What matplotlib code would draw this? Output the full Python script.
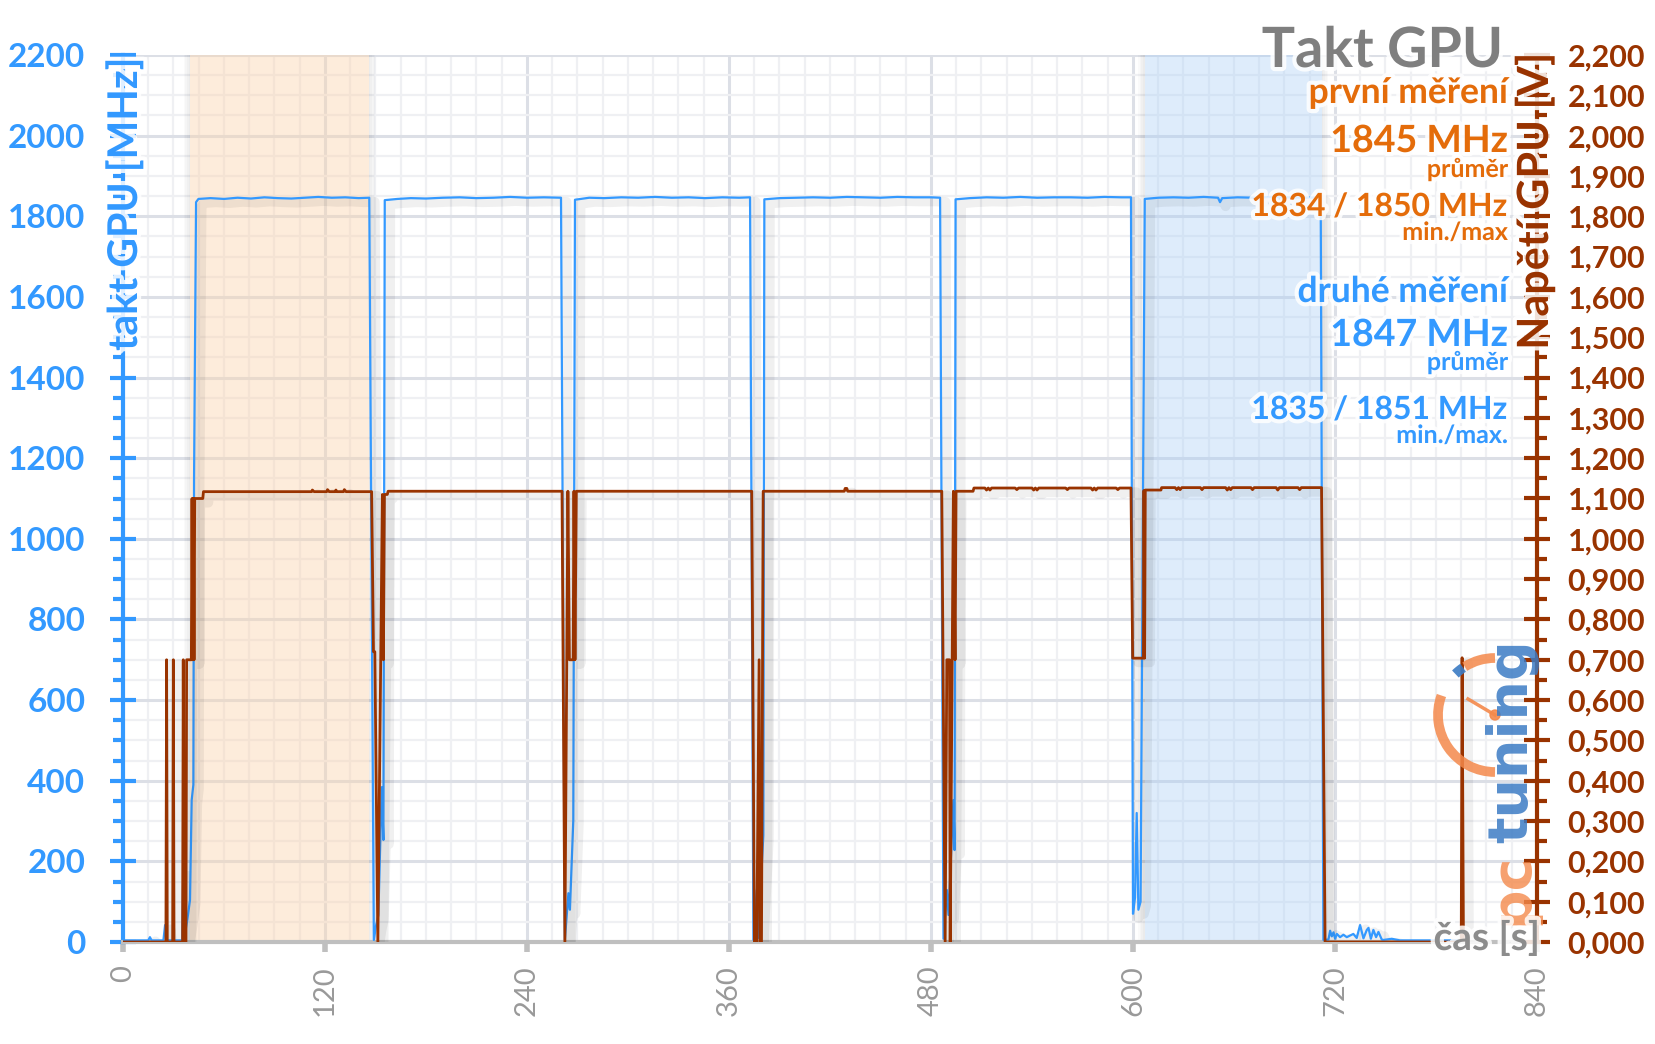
import numpy as np
import matplotlib
matplotlib.use('Agg')
import matplotlib.pyplot as plt
from matplotlib.ticker import MultipleLocator
import matplotlib.patheffects as pe
from matplotlib.patches import Arc, Circle

plt.rcParams['font.family'] = ['Lato', 'DejaVu Sans']

# --- data ------------------------------------------------------------------
# GPU clock (MHz), pairs of (time [s], value)
clock = [
    (0, 4), (15, 4), (16, 12), (17, 4), (24, 4), (25, 42), (26, 4), (35.2, 4),
    (35.8, 175), (36.4, 10), (38.2, 55), (39.8, 104), (40.8, 352), (41.8, 390),
    (42.2, 1146), (43.4, 1835), (44.8, 1843),
    (52, 1845), (60, 1843), (68, 1846), (76, 1844), (84, 1847), (92, 1845),
    (100, 1844), (108, 1846), (116, 1848), (124, 1846), (132, 1847), (140, 1845),
    (146.3, 1846),
    (149.0, 5), (150.3, 40), (151.7, 67), (153.7, 384), (154.7, 253), (155.5, 1840),
    (163, 1843), (171, 1845), (180, 1844), (190, 1846), (200, 1847), (210, 1845),
    (220, 1846), (230, 1848), (240, 1846), (250, 1847), (260.2, 1846),
    (262.5, 5), (264.6, 121), (265.5, 80), (267.5, 302), (268.5, 1841),
    (277, 1846), (286, 1845), (296, 1847), (306, 1846), (316, 1848), (326, 1846),
    (336, 1847), (346, 1845), (356, 1847), (366, 1846), (372.5, 1847),
    (374.5, 5), (376.5, 129), (377.3, 10), (380.4, 265), (381.0, 1842),
    (390, 1845), (400, 1846), (410, 1847), (420, 1846), (430, 1848), (440, 1847),
    (450, 1846), (460, 1848), (470, 1847), (480, 1847), (485.4, 1846),
    (487.4, 8), (489.4, 129), (490.4, 67), (493.3, 352), (494.0, 228), (494.6, 1842),
    (503, 1845), (513, 1847), (523, 1846), (533, 1848), (543, 1846), (553, 1847),
    (563, 1847), (573, 1846), (583, 1848), (593, 1847), (598.8, 1847),
    (600.0, 70), (601.2, 110), (602.2, 320), (603.2, 80), (604.5, 100), (607.0, 1843),
    (615, 1846), (624, 1847), (633, 1846), (642, 1848), (650.5, 1846), (651.7, 1835),
    (653, 1845), (662, 1847), (672, 1846), (682, 1848), (692, 1847), (702, 1846),
    (711.5, 1847),
    (713.1, 5), (716.1, 6), (717.1, 28), (718.1, 14), (719.1, 24), (720.1, 8),
    (721.1, 20), (723.0, 12), (725.0, 18), (727.0, 12), (729.0, 16), (730.9, 20),
    (732.9, 10), (734.9, 42), (736.9, 9), (738.9, 30), (739.9, 35), (741.3, 8),
    (742.8, 30), (744.4, 12), (745.8, 25), (747.8, 6), (748.7, 5), (753.7, 8),
    (758.6, 4), (776.5, 4), (797, 4),
]

# GPU voltage (V), pairs of (time [s], value)
voltage = [
    (0, 0), (25.5, 0), (25.9, 0.70), (26.3, 0), (29.5, 0), (29.9, 0.70), (30.3, 0),
    (35.4, 0), (35.8, 0.70), (36.2, 0), (37.4, 0), (37.8, 0.70), (40.6, 0.70),
    (41.0, 1.10), (41.4, 0.70), (41.8, 1.10), (42.2, 0.70), (42.6, 1.10),
    (47.4, 1.10), (47.8, 1.117),
    (112, 1.117), (112.5, 1.121), (113.5, 1.117), (121, 1.117), (121.5, 1.122),
    (122.5, 1.117), (126, 1.117), (126.5, 1.121), (127, 1.117), (131, 1.117),
    (131.5, 1.122), (132.5, 1.117), (147.7, 1.117),
    (148.8, 0.72), (149.6, 0.72), (151.4, 0), (154.1, 1.11), (154.7, 0.70),
    (155.3, 1.11), (157.0, 1.11), (157.5, 1.118),
    (260.8, 1.118),
    (262.5, 0), (264.3, 1.118), (265.2, 0.70), (267.4, 0.70), (267.9, 1.118),
    (268.5, 0.70), (269.3, 1.118),
    (373.5, 1.118),
    (375.1, 0), (376.5, 0), (377.9, 0.70), (378.4, 0), (379.3, 0), (380.3, 1.118),
    (428.5, 1.118), (429, 1.125), (430, 1.125), (430.5, 1.118), (486.4, 1.118),
    (488.4, 0), (489.4, 0.70), (491.0, 0.70), (491.4, 0), (493.3, 1.118),
    (494.3, 0.70), (494.9, 1.118), (505.0, 1.118), (505.5, 1.126),
    (512, 1.126), (513, 1.121), (514, 1.126), (515, 1.121), (516, 1.126),
    (530, 1.126), (531, 1.122), (532, 1.126), (540, 1.126), (541, 1.121),
    (542, 1.126), (543, 1.121), (544, 1.126), (560, 1.126), (561, 1.122),
    (562, 1.126), (575, 1.126), (576, 1.121), (577, 1.126), (578, 1.121),
    (579, 1.126), (590, 1.126), (591, 1.122), (592, 1.126), (598.8, 1.126),
    (599.8, 0.704), (606.2, 0.704), (606.5, 1.12), (606.9, 0.704), (607.3, 1.121),
    (616.6, 1.121), (617, 1.127),
    (625, 1.127), (626, 1.122), (627, 1.127), (628, 1.122), (629, 1.127),
    (640, 1.127), (641, 1.122), (642, 1.127), (655, 1.127), (656, 1.121),
    (657, 1.127), (658, 1.122), (659, 1.127), (670, 1.127), (671, 1.122),
    (672, 1.127), (685, 1.127), (686, 1.121), (687, 1.127), (698, 1.127),
    (699, 1.122), (700, 1.127), (712.0, 1.127),
    (714.1, 0), (795.0, 0), (795.5, 0.705), (796.3, 0), (797, 0),
]

first_span = (40, 146)     # first measurement window [s]
second_span = (607, 712)   # second measurement window [s]

time_ticks = [0, 120, 240, 360, 480, 600, 720, 840]
mhz_ticks = [0, 200, 400, 600, 800, 1000, 1200, 1400, 1600, 1800, 2000, 2200]
volt_ticks = [0.0, 0.1, 0.2, 0.3, 0.4, 0.5, 0.6, 0.7, 0.8, 0.9, 1.0, 1.1,
              1.2, 1.3, 1.4, 1.5, 1.6, 1.7, 1.8, 1.9, 2.0, 2.1, 2.2]
volt_labels = [('%.3f' % v).replace('.', ',') for v in volt_ticks]

title = 'Takt GPU'
first_lines = ['první měření', '1845 MHz', 'průměr', '1834 / 1850 MHz', 'min./max']
second_lines = ['druhé měření', '1847 MHz', 'průměr', '1835 / 1851 MHz', 'min./max.']

BLUE = '#3399ff'
BROWN = '#993300'
ORANGE = '#e46c0a'
GRAY = '#7f7f7f'

# --- figure ------------------------------------------------------------------
W, H = 1656, 1044
fig = plt.figure(figsize=(W / 100, H / 100), dpi=100)

def fx(px):
    return px / W

def fy(py):
    return 1 - py / H

ax = fig.add_axes([fx(123), fy(942), fx(1537) - fx(123), fy(55) - fy(942)])
ax2 = ax.twinx()

ax.set_xlim(0, 840)
ax.set_ylim(0, 2200)
ax2.set_ylim(0, 2.2)

# shaded windows with a soft shadow on the sides
for (a, b), col, al in [(first_span, '#fbd5b0', 0.45), (second_span, '#a9cff7', 0.38)]:
    for d in [1.0, 2.0, 3.0, 4.0]:
        ax.axvspan(a - d, a, color='k', alpha=0.018, lw=0, zorder=0.8)
        ax.axvspan(b, b + d, color='k', alpha=0.018, lw=0, zorder=0.8)
    ax.axvspan(a, b, color=col, alpha=al, lw=0, zorder=0.9)

ax.set_axisbelow(True)
ax.xaxis.set_minor_locator(MultipleLocator(15))
ax.yaxis.set_minor_locator(MultipleLocator(50))
ax.grid(which='major', color='#dcdfe6', lw=2.2)
ax.grid(which='minor', color='#eff0f3', lw=1.6)

shadow = [pe.SimpleLineShadow(offset=(4, -3), shadow_color='k', alpha=0.06, linewidth=7),
          pe.Normal()]
ct, cv = zip(*clock)
ax.plot(ct, cv, color=BLUE, lw=1.6, zorder=3, path_effects=shadow)
vt, vv = zip(*voltage)
ax2.plot(vt, vv, color=BROWN, lw=2.0, zorder=3, path_effects=shadow)

# spines
for s in ['top', 'right']:
    ax.spines[s].set_visible(False)
for s in ['top', 'left', 'bottom']:
    ax2.spines[s].set_visible(False)
ax.spines['left'].set_color(BLUE)
ax.spines['left'].set_linewidth(3)
ax.spines['bottom'].set_color('#bfbfbf')
ax.spines['bottom'].set_linewidth(3)
ax2.spines['right'].set_color(BROWN)
ax2.spines['right'].set_linewidth(3)

# ticks
ax.set_xticks(time_ticks)
ax.set_xticklabels([str(t) for t in time_ticks], rotation=90)
ax.tick_params(axis='x', which='major', direction='out', length=7, width=4,
               color='#bfbfbf', labelcolor='#999999', labelsize=21, pad=9.5)
ax.tick_params(axis='x', which='minor', length=0)

ax.set_yticks(mhz_ticks)
ax.set_yticklabels([str(m) for m in mhz_ticks], fontweight='bold')
ax.tick_params(axis='y', which='major', direction='inout', length=19, width=3,
               color=BLUE, labelcolor=BLUE, labelsize=24, pad=17.5)
ax.tick_params(axis='y', which='minor', direction='out', length=7, width=3, color=BLUE)

ax2.set_yticks(volt_ticks)
ax2.set_yticklabels(volt_labels, fontweight='bold')
ax2.yaxis.set_minor_locator(MultipleLocator(0.05))
ax2.tick_params(axis='y', which='major', direction='inout', length=19, width=3,
                color=BROWN, labelcolor=BROWN, labelsize=22, pad=12.5)
ax2.tick_params(axis='y', which='minor', direction='out', length=7, width=3, color=BROWN)

# overlay in pixel coordinates for texts and logo
ov = fig.add_axes([0, 0, 1, 1], zorder=5)
ov.set_xlim(0, W)
ov.set_ylim(H, 0)
ov.axis('off')
ov.patch.set_visible(False)

glow = [pe.withStroke(linewidth=6, foreground='white', alpha=0.85)]

# logo
LOGO_O = '#f4894b'
LOGO_B = '#3b7bc4'
ov.add_patch(Arc((1495, 715), 114, 114, theta1=90, theta2=200, color=LOGO_O, lw=7, alpha=0.85))
ov.add_patch(Arc((1495, 715), 114, 114, theta1=238, theta2=270, color=LOGO_O, lw=7, alpha=0.85))
ov.add_patch(Arc((1495, 715), 114, 114, theta1=226, theta2=236, color=LOGO_B, lw=7, alpha=0.9))
ov.plot([1495, 1468], [715, 699], color=LOGO_O, lw=2.5, alpha=0.9)
ov.add_patch(Circle((1495, 715), 5, color=LOGO_O, alpha=0.9))
ov.text(1527, 925, 'pc', rotation=90, rotation_mode='anchor', ha='left', va='baseline',
        fontsize=40, color=LOGO_O, family='DejaVu Sans', fontweight='bold', alpha=0.8)
ov.text(1527, 843, 'tuning', rotation=90, rotation_mode='anchor', ha='left', va='baseline',
        fontsize=40, color=LOGO_B, family='DejaVu Sans', fontweight='bold', alpha=0.85)

# axis titles
ov.text(137, 57, 'takt GPU [MHz]', rotation=90, rotation_mode='anchor', ha='right',
        va='baseline', fontsize=29.5, fontweight='bold', color=BLUE, path_effects=glow)
ov.text(1548, 53, 'Napětí GPU [V]', rotation=90, rotation_mode='anchor', ha='right',
        va='baseline', fontsize=31, fontweight='bold', color=BROWN, path_effects=glow)
ov.text(1540, 950, 'čas [s]', ha='right', va='baseline', fontsize=28,
        fontweight='bold', color='#8c8c8c', path_effects=glow)

# title and summary block
ov.text(1503, 67, title, ha='right', va='baseline', fontsize=40, fontweight='bold',
        color=GRAY, path_effects=glow)
sizes = [25.5, 27, 18, 23, 18]
first_y = [103, 152, 177, 216, 240]
second_y = [302, 346, 370, 419, 443]
for s, y, fs in zip(first_lines, first_y, sizes):
    ov.text(1508, y, s, ha='right', va='baseline', fontsize=fs, fontweight='bold',
            color=ORANGE, path_effects=glow)
for s, y, fs in zip(second_lines, second_y, sizes):
    ov.text(1508, y, s, ha='right', va='baseline', fontsize=fs, fontweight='bold',
            color=BLUE, path_effects=glow)

fig.savefig('out.png', dpi=100)
